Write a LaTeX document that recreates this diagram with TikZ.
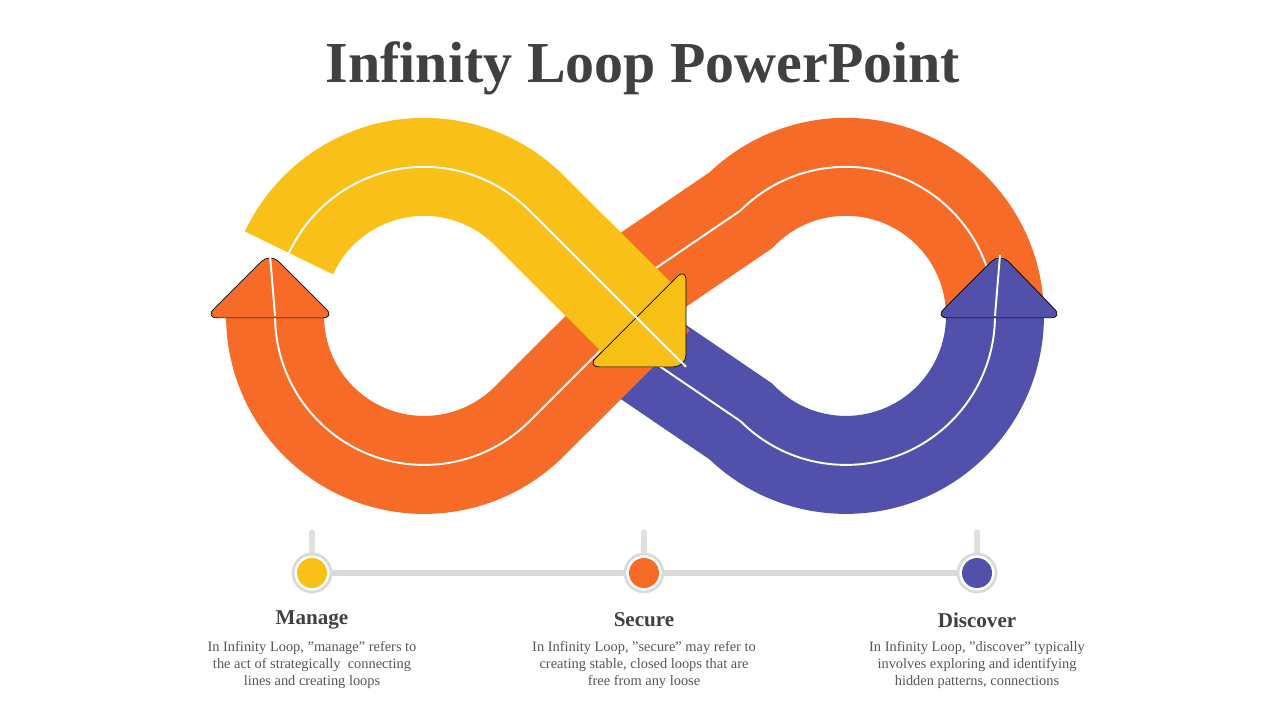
\documentclass[tikz,border=0pt]{standalone}
\usepackage{fontspec}
\setmainfont{Liberation Serif}
\definecolor{yel}{HTML}{F9C018}
\definecolor{ora}{HTML}{F76B28}
\definecolor{pur}{HTML}{5150AA}
\definecolor{ttl}{HTML}{404040}
\definecolor{txt}{HTML}{555555}
\begin{document}
\begin{tikzpicture}[x=0.02cm,y=-0.02cm,
  band/.style={line width=1.96cm},
  mid/.style={white,line width=1.1pt},
  head/.style={rounded corners=7pt},
  dot/.style={circle,fill=white,draw=black!15,line width=1.5pt,minimum size=0.76cm,inner sep=0},
  hd/.style={font=\bfseries\fontsize{12}{14}\selectfont,text=ttl},
  ds/.style={font=\fontsize{8.2}{9.6}\selectfont,text=txt,align=center}]
\useasboundingbox (0,0) rectangle (1280,720);
\node[font=\bfseries\fontsize{33}{38}\selectfont,text=ttl] (title) at (643,68) {Infinity Loop PowerPoint};
\begin{scope}[x=0.02cm,y=0.02cm,yshift=-14.4cm]
% orange right
\draw[band,ora] (615,424) -- (740.6,509.4) arc (135:5:149);
\draw[mid] (615,424) -- (740.6,509.4) arc (135:5:149);
% purple
\draw[band,pur] (615,384) -- (740.6,298.6) arc (-135:0:149);
\draw[mid] (615,384) -- (740.6,298.6) arc (-135:0:149);
% orange left
\draw[band,ora] (655,424) -- (635,404) -- (529.4,298.6) arc (-45:-180:149);
\draw[mid] (635,404) -- (529.4,298.6) arc (-45:-180:149);
% yellow
\draw[band,yel] (424,404) ++(155:149) arc (155:45:149) -- (650,389);
\draw[head,fill=yel] (686,452) -- (686,353) -- (587,353) -- cycle;
\draw[mid] (424,404) ++(155:149) arc (155:45:149) -- (686,353);
% heads
\draw[head,fill=ora] (205,402) -- (270,467) -- (335,402) -- cycle;
\draw[mid] (275,404) -- (270,465);
\draw[head,fill=pur] (935,402) -- (1000,467) -- (1063,402) -- cycle;
\draw[mid] (995,404) -- (1000,465);
\end{scope}
% timeline
\foreach \n/\x in {a/312,b/644,c/977}{
  \coordinate (t\n) at (\x,532);
  \coordinate (u\n) at (\x,552);
  \draw[black!12,line width=3pt,line cap=round] (t\n) -- (u\n);
}
\coordinate (l0) at (312,573);
\coordinate (l1) at (977,573);
\draw[black!15,line width=3pt] (l0) -- (l1);
\node[dot] (da) at (312,573) {};
\node[dot] (db) at (644,573) {};
\node[dot] (dc) at (977,573) {};
\fill[yel] (da) circle (15);
\fill[ora] (db) circle (15);
\fill[pur] (dc) circle (15);
\node[hd] (ha) at (312,620) {Manage};
\node[hd] (hb) at (644,620) {Secure};
\node[hd] (hc) at (977,620) {Discover};
\node[ds] (xa) at (312,665) {In Infinity Loop, "manage" refers to\\the act of strategically\ \ connecting\\lines and creating loops};
\node[ds] (xb) at (644,665) {In Infinity Loop, "secure" may refer to\\creating stable, closed loops that are\\free from any loose};
\node[ds] (xc) at (977,665) {In Infinity Loop, "discover" typically\\involves exploring and identifying\\hidden patterns, connections};
\end{tikzpicture}
\end{document}
